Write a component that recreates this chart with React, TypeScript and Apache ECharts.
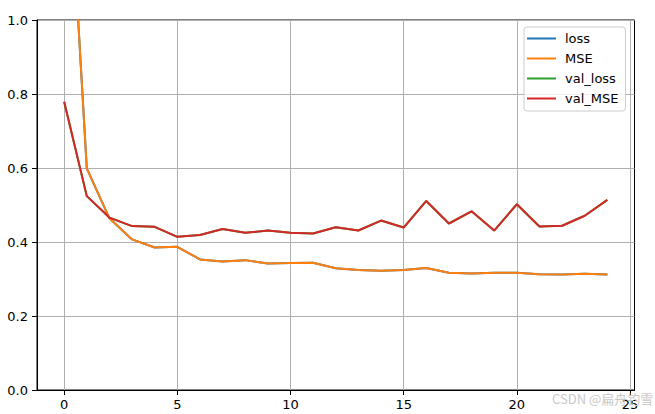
import React, { useEffect, useRef } from "react";
import * as echarts from "echarts";

const epochs = [0,1,2,3,4,5,6,7,8,9,10,11,12,13,14,15,16,17,18,19,20,21,22,23,24];
const loss = [1.65,0.599,0.464,0.407,0.385,0.387,0.353,0.347,0.351,0.342,0.343,0.344,0.329,0.324,0.322,0.324,0.330,0.317,0.315,0.317,0.317,0.313,0.312,0.314,0.312];
const mse = [1.65,0.599,0.464,0.407,0.385,0.387,0.353,0.347,0.351,0.342,0.343,0.344,0.329,0.324,0.322,0.324,0.330,0.317,0.315,0.317,0.317,0.313,0.312,0.314,0.312];
const valLoss = [0.779,0.524,0.466,0.443,0.441,0.414,0.419,0.435,0.425,0.431,0.425,0.423,0.440,0.431,0.458,0.439,0.511,0.450,0.483,0.431,0.502,0.442,0.444,0.471,0.514];
const valMse = [0.779,0.524,0.466,0.443,0.441,0.414,0.419,0.435,0.425,0.431,0.425,0.423,0.440,0.431,0.458,0.439,0.511,0.450,0.483,0.431,0.502,0.442,0.444,0.471,0.514];
const seriesNames = ["loss", "MSE", "val_loss", "val_MSE"];
const seriesColors = ["#1f77b4", "#ff7f0e", "#2ca02c", "#d62728"];
const xTicks = [0, 5, 10, 15, 20, 25];

const FONT = "DejaVu Sans";

export default function App() {
  const ref = useRef<HTMLDivElement>(null);
  useEffect(() => {
    if (!ref.current) return;
    const chart = echarts.init(ref.current, null, { renderer: "svg" });
    const all = [loss, mse, valLoss, valMse];
    const series = all.map((arr, i) => ({
      name: seriesNames[i],
      type: "line",
      data: epochs.map((e, j) => [e, arr[j]]),
      showSymbol: false,
      symbol: "none",
      lineStyle: { color: seriesColors[i], width: 2 },
      itemStyle: { color: seriesColors[i] },
      clip: true,
      z: 3 + i,
    }));
    chart.setOption({
      animation: false,
      backgroundColor: "#fff",
      textStyle: { fontFamily: FONT },
      grid: {
        left: 37,
        top: 20,
        width: 597.5,
        height: 370,
        show: true,
        borderColor: "#000",
        borderWidth: 1,
        backgroundColor: "transparent",
      },
      xAxis: {
        type: "value",
        min: -1.2,
        max: 25.2,
        axisLine: { show: true, onZero: false, lineStyle: { color: "#000", width: 1 } },
        axisTick: { show: true, length: 5, customValues: xTicks, lineStyle: { color: "#000", width: 1 } },
        axisLabel: { customValues: xTicks, color: "#000", fontSize: 13, fontFamily: FONT, margin: 8 },
        splitLine: { show: true, lineStyle: { color: "#b0b0b0", width: 1 } },
      },
      yAxis: {
        type: "value",
        min: 0,
        max: 1,
        interval: 0.2,
        axisLine: { show: true, onZero: false, lineStyle: { color: "#000", width: 1 } },
        axisTick: { show: true, length: 5, lineStyle: { color: "#000", width: 1 } },
        axisLabel: {
          color: "#000",
          fontSize: 13,
          fontFamily: FONT,
          margin: 9,
          formatter: (v: number) => v.toFixed(1),
        },
        splitLine: { show: true, lineStyle: { color: "#b0b0b0", width: 1 } },
      },
      legend: {
        data: seriesNames,
        orient: "vertical",
        left: 524,
        top: 27,
        padding: [5, 7, 6, 3],
        itemGap: 7,
        itemWidth: 29,
        itemHeight: 2,
        icon: "rect",
        backgroundColor: "rgba(255,255,255,0.8)",
        borderColor: "#cccccc",
        borderWidth: 1,
        borderRadius: 3,
        textStyle: { color: "#000", fontSize: 13, fontFamily: FONT, lineHeight: 13, padding: [0, 0, 0, 4] },
      },
      graphic: [
        {
          type: "text",
          left: 552,
          top: 392,
          style: {
            text: "CSDN @扁舟钓雪",
            fill: "#c8c8c8",
            font: '13px "Noto Sans CJK SC", "DejaVu Sans"',
          },
          z: 100,
        },
      ],
      series,
    });
    return () => chart.dispose();
  }, []);
  return (
    <div
      ref={ref}
      style={{ position: "fixed", left: 0, top: 0, width: 655, height: 414 }}
    />
  );
}
